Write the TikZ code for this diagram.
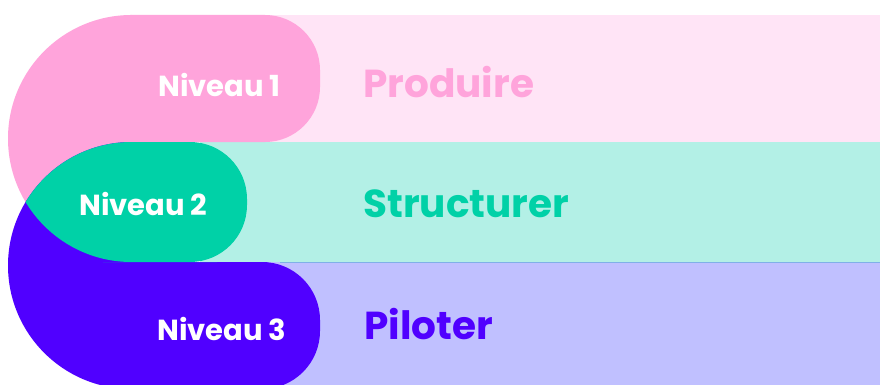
\documentclass[tikz,border=0pt]{standalone}
\usepackage{fontspec}
\setmainfont{Poppins}[BoldFont={* Bold}]
\definecolor{pinkA}{HTML}{FFA4DB}
\definecolor{pinkL}{HTML}{FFE4F6}
\definecolor{greenA}{HTML}{00D1A7}
\definecolor{greenL}{HTML}{B3F0E6}
\definecolor{purpA}{HTML}{5000FF}
\definecolor{purpL}{HTML}{C0C0FF}
\definecolor{sepline}{HTML}{80B0E8}
\tikzset{
  lvl/.style={font=\bfseries\fontsize{29}{31}\selectfont, text=white, inner sep=0pt, anchor=base west},
  ttl/.style={font=\bfseries\fontsize{39}{41}\selectfont, inner sep=0pt, anchor=base west},
}
\begin{document}
\begin{tikzpicture}[x=1pt,y=-1pt]
\useasboundingbox (0,0) rectangle (880,385);
\fill[white] (0,0) rectangle (880,385);
% light bands
\fill[pinkL] (220,15) rectangle (880,142);
\fill[greenL] (200,142) rectangle (880,262);
\fill[purpL] (220,262) rectangle (880,385);
\draw[sepline, line width=0.8pt] (280,262) -- (880,262);
% left half-disks
\begin{scope}
  \clip (0,0) rectangle (133,400);
  \fill[pinkA] (131.5,138.5) circle[radius=123.5];
  \fill[purpA] (131.5,265.5) circle[radius=123.5];
  \clip (131.5,138.5) circle[radius=123.5];
  \fill[greenA] (131.5,265.5) circle[radius=123.5];
\end{scope}
% right rounded parts
\fill[pinkA] (130,15) -- (200,15) [rounded corners=55] -- (320,15) -- (320,142) -- (200,142) [sharp corners] -- (130,142) -- cycle;
\fill[purpA] (130,262) -- (200,262) [rounded corners=58] -- (320,262) -- (320,389) -- (200,389) [sharp corners] -- (130,389) -- cycle;
\fill[greenA] (130,142) -- (160,142) [rounded corners=57] -- (247,142) -- (247,262) -- (160,262) [sharp corners] -- (130,262) -- cycle;
% labels
\node[lvl] (n1) at (158,97) {Niveau 1};
\node[lvl] (n2) at (79,215) {Niveau 2};
\node[lvl] (n3) at (157,340) {Niveau 3};
\node[ttl, text=pinkA] (t1) at (363,98) {Produire};
\node[ttl, text=greenA] (t2) at (363,217) {Structurer};
\node[ttl, text=purpA] (t3) at (364,339) {Piloter};
\end{tikzpicture}
\end{document}
